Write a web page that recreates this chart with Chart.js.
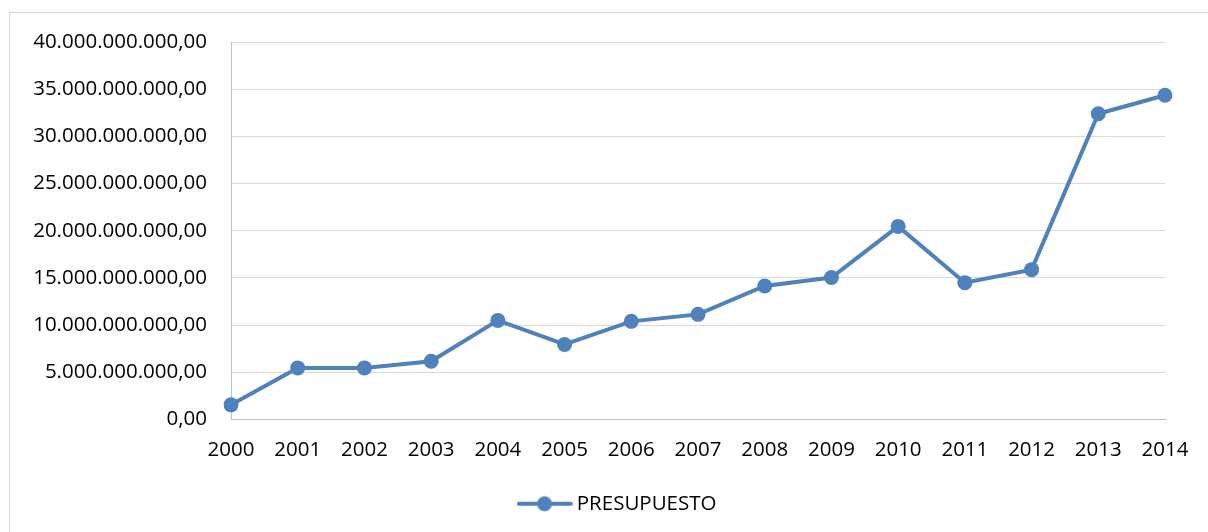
<!DOCTYPE html>
<html>
<head>
<meta charset="utf-8">
<script src="https://cdn.jsdelivr.net/npm/chart.js@4.4.1/dist/chart.umd.min.js"></script>
<style>
  html, body { margin: 0; padding: 0; background: #fff; overflow: hidden; }
  #frame { position: absolute; left: 9px; top: 12px; width: 1400px; height: 700px; border: 1px solid #d9d9d9; }
  #wrap { position: absolute; left: 0; top: 0; width: 1208px; height: 532px; }
</style>
</head>
<body>
<div id="frame"></div>
<div id="wrap"><canvas id="chart"></canvas></div>
<script>
const years = ['2000', '2001', '2002', '2003', '2004', '2005', '2006', '2007',
  '2008', '2009', '2010', '2011', '2012', '2013', '2014'];
const presupuesto = [1.55e9, 5.47e9, 5.47e9, 6.17e9, 10.5e9, 7.95e9, 10.4e9, 11.14e9,
  14.15e9, 15.05e9, 20.46e9, 14.5e9, 15.88e9, 32.4e9, 34.36e9];
const yTicks = [0, 5e9, 10e9, 15e9, 20e9, 25e9, 30e9, 35e9, 40e9];

const blue = '#4f81bd';
const font = { family: "'Open Sans', sans-serif", size: 20.5 };

// formato 40.000.000.000,00
function formatNumber(v) {
  const int = Math.round(v).toString().replace(/\B(?=(\d{3})+(?!\d))/g, '.');
  return int + ',00';
}

// icono de leyenda: linea con circulo
const legendIcon = document.createElement('canvas');
legendIcon.width = 56;
legendIcon.height = 18;
const ictx = legendIcon.getContext('2d');
ictx.strokeStyle = blue;
ictx.lineWidth = 4;
ictx.lineCap = 'round';
ictx.beginPath();
ictx.moveTo(2, 9);
ictx.lineTo(54, 9);
ictx.stroke();
ictx.fillStyle = blue;
ictx.beginPath();
ictx.arc(28, 9, 7.5, 0, Math.PI * 2);
ictx.fill();

// la leyenda de Excel queda centrada un poco mas a la derecha
const legendShift = {
  id: 'legendShift',
  afterLayout(chart) {
    chart.legend.left += 27;
    chart.legend.right += 27;
  },
};

Chart.defaults.color = '#000';

const chartElement = document.querySelector('#chart').getContext('2d');

new Chart(chartElement, {
  type: 'line',
  data: {
    labels: years,
    datasets: [
      {
        label: 'PRESUPUESTO',
        data: presupuesto,
        borderColor: blue,
        backgroundColor: blue,
        borderWidth: 4,
        pointRadius: 7.5,
        pointHoverRadius: 7.5,
        pointBackgroundColor: blue,
        pointBorderWidth: 0,
        tension: 0,
      },
    ],
  },
  plugins: [legendShift],
  options: {
    responsive: true,
    maintainAspectRatio: false,
    animation: false,
    layout: {
      padding: { left: 20, right: 43, top: 42, bottom: 8 },
    },
    plugins: {
      tooltip: { enabled: false },
      legend: {
        position: 'bottom',
        labels: {
          font: font,
          color: '#000',
          usePointStyle: true,
          pointStyleWidth: 44,
          padding: 10,
          generateLabels: () => [
            {
              text: 'PRESUPUESTO',
              pointStyle: legendIcon,
              fillStyle: blue,
              strokeStyle: blue,
              lineWidth: 0,
              datasetIndex: 0,
            },
          ],
        },
      },
    },
    scales: {
      x: {
        offset: false,
        grid: { display: false, drawTicks: false },
        border: { display: true, color: '#bfbfbf', width: 1 },
        ticks: { font: font, color: '#000', padding: 18, maxRotation: 0, autoSkip: false },
        afterFit: (scale) => { scale.height = 64; },
      },
      y: {
        min: 0,
        max: 40e9,
        grid: { color: '#d9d9d9', lineWidth: 1, drawTicks: false },
        border: { display: true, color: '#bfbfbf', width: 1 },
        afterBuildTicks: (scale) => { scale.ticks = yTicks.map((v) => ({ value: v })); },
        ticks: {
          font: font,
          color: '#000',
          padding: 24,
          callback: (v) => formatNumber(v),
        },
        afterFit: (scale) => { scale.width = 231 - 20; },
      },
    },
  },
});
</script>
</body>
</html>
